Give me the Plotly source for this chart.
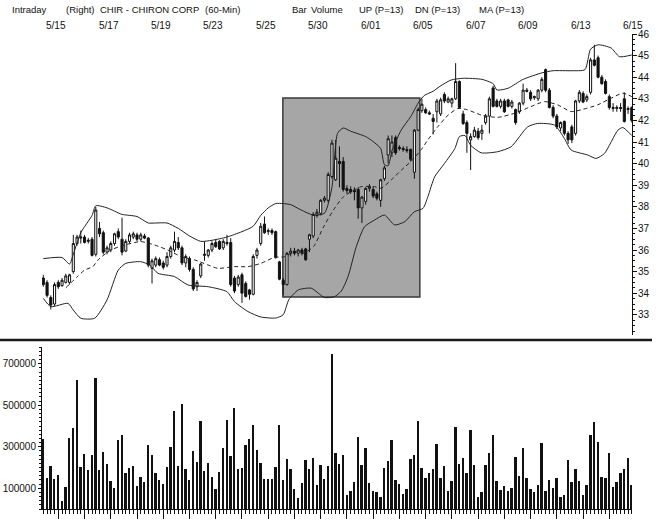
import plotly.graph_objects as go

# ---------------- data ----------------
bar_index = list(range(158))

open_ = [34.7,34.5,33.8,33.5,34.5,34.35,34.5,34.5,35.0,36.3,36.55,36.6,36.4,36.5,35.8,37.0,36.8,35.9,36.0,36.3,
         36.85,36.5,35.95,36.4,36.6,36.7,36.5,36.65,36.55,35.15,35.3,35.55,35.4,35.3,35.7,36.0,36.35,36.1,35.4,35.6,
         35.1,34.3,34.8,35.75,35.75,36.0,36.35,36.4,36.1,36.35,36.35,34.7,34.4,34.85,34.45,34.15,33.95,35.75,36.3,37.2,
         36.85,36.9,36.85,35.45,34.6,34.4,35.85,35.95,35.85,36.0,36.05,36.5,36.65,37.6,37.7,38.3,38.3,39.4,39.25,40.1,
         40.1,38.85,38.8,38.75,38.8,37.95,38.25,38.85,38.8,38.6,38.3,39.3,40.4,40.5,41.2,40.75,40.7,40.65,40.65,39.6,
         41.55,42.45,42.5,42.35,42.1,42.4,42.3,43.2,42.85,42.8,43.0,43.8,42.3,41.9,41.1,41.25,41.5,41.4,41.9,42.2,
         43.5,42.9,42.65,42.9,42.95,42.65,42.5,42.4,42.8,43.4,43.3,43.05,43.0,43.4,44.35,43.4,42.6,42.2,41.65,41.95,
         41.4,41.7,41.4,42.9,43.25,42.95,43.3,44.8,44.9,44.0,43.8,43.1,42.6,42.55,42.6,43.0,42.5,42.6]
high = [34.85,34.6,33.9,34.5,34.6,34.7,34.9,34.9,36.7,36.7,36.9,36.7,36.55,36.6,38.0,37.3,36.9,36.2,36.4,36.8,
        37.0,37.5,36.5,36.8,36.85,36.8,36.8,36.75,36.6,35.6,35.7,35.65,35.5,35.9,36.2,36.85,36.6,36.2,35.8,35.7,
        35.2,34.6,35.4,36.4,36.05,36.4,36.5,36.45,36.5,36.7,36.55,34.8,34.85,34.95,34.55,34.2,35.8,36.1,37.25,37.55,
        37.0,37.0,36.9,35.5,34.7,35.9,36.1,36.1,36.05,36.1,36.1,36.75,37.75,37.9,38.35,38.5,39.6,41.1,41.1,40.8,
        40.3,39.0,38.95,38.9,38.9,38.5,38.9,39.05,38.95,38.7,39.3,39.9,41.3,41.3,41.3,40.85,40.8,40.8,40.7,41.6,
        42.6,43.0,42.6,42.45,42.3,43.0,43.05,43.3,43.1,43.05,44.65,43.85,42.45,42.0,41.4,41.7,41.65,41.8,42.3,43.1,
        43.6,43.0,43.0,43.0,43.0,42.95,42.55,42.85,43.7,43.5,43.4,43.15,43.45,44.0,44.4,43.5,42.7,42.3,41.95,42.0,
        41.5,41.8,42.95,43.4,43.35,43.2,44.9,45.5,45.0,44.1,43.9,43.2,42.8,42.7,42.8,43.3,42.65,42.65]
low = [34.3,33.8,33.25,33.4,34.2,34.3,34.45,34.4,34.9,36.2,36.3,36.3,36.3,35.7,35.7,36.6,35.8,35.8,35.9,36.2,
       36.5,35.75,35.9,36.3,36.5,36.4,36.4,36.5,35.2,34.45,35.2,35.25,35.1,35.2,35.6,35.9,36.0,35.3,35.2,35.0,
       34.1,34.1,34.7,35.5,35.65,35.9,36.1,36.0,36.0,36.2,34.3,34.0,34.3,33.55,33.8,33.7,33.9,35.6,36.2,36.75,
       36.7,36.7,35.6,34.6,33.9,34.35,35.7,35.75,35.7,35.75,35.5,35.9,36.55,37.5,37.6,38.2,38.2,39.3,39.2,38.9,
       38.7,38.6,38.6,38.3,37.45,37.25,38.1,38.7,38.4,38.3,38.0,39.2,40.0,40.3,40.4,40.6,40.55,40.5,40.1,39.3,
       41.5,42.35,42.3,42.25,41.35,41.9,42.2,42.8,42.8,42.6,42.95,42.55,41.8,40.5,39.7,41.2,41.1,41.1,41.8,41.4,
       42.6,42.6,42.55,42.35,42.6,42.55,41.8,42.3,42.7,43.3,42.9,42.95,42.9,43.3,43.3,42.55,42.1,41.6,41.5,41.3,
       40.9,40.95,41.3,42.8,42.8,42.85,43.2,44.5,43.95,43.65,43.2,42.5,42.4,42.4,42.4,41.9,42.3,41.9]
close = [34.4,33.9,33.45,34.4,34.3,34.6,34.8,34.85,36.3,36.6,36.6,36.35,36.45,35.75,37.85,36.75,35.9,36.1,36.3,36.75,
         36.6,35.9,36.4,36.7,36.75,36.5,36.7,36.55,35.3,35.5,35.6,35.3,35.2,35.7,36.1,36.4,36.1,35.4,35.7,35.1,
         34.2,34.5,35.35,35.8,36.0,36.3,36.15,36.05,36.4,36.3,34.4,34.1,34.75,34.0,33.85,33.95,35.7,36.0,37.1,36.8,
         36.9,36.8,35.65,34.65,34.4,35.85,35.95,35.85,36.0,35.85,35.55,36.7,37.65,37.75,38.3,38.4,39.5,40.95,40.25,40.0,
         38.8,38.75,38.7,38.7,37.95,38.45,38.85,38.95,38.5,38.4,39.25,39.8,41.15,41.0,40.5,40.7,40.65,40.6,40.2,41.55,
         42.5,42.75,42.35,42.3,41.95,42.9,42.95,42.9,43.0,43.0,43.8,42.6,41.85,41.4,41.25,41.55,41.2,41.55,42.2,43.0,
         42.65,42.65,42.9,42.4,42.65,42.85,41.9,42.8,43.4,43.35,43.0,43.1,43.4,43.9,43.4,42.6,42.2,41.7,41.9,41.4,
         41.1,41.1,42.9,43.3,42.85,43.1,44.8,44.55,44.0,43.7,43.25,42.6,42.55,42.6,42.55,41.95,42.55,42.0]

volume = [336,151,209,143,165,39,108,342,389,620,201,263,188,259,631,188,275,215,137,103,
          333,357,172,199,205,111,153,130,307,260,172,140,119,201,300,472,209,504,194,140,
          278,226,422,183,222,156,96,177,292,429,255,487,194,197,308,337,403,284,222,143,
          143,145,203,406,140,241,193,95,53,124,236,191,244,117,214,143,205,745,268,217,
          262,67,88,132,349,214,294,127,88,80,59,197,230,334,138,120,74,96,241,262,
          422,197,151,172,191,313,151,209,88,133,395,217,244,172,381,212,56,83,212,268,
          358,135,92,112,88,101,252,157,294,149,95,80,114,316,88,140,101,151,59,66,
          236,132,194,135,67,117,358,421,323,154,151,271,108,129,172,191,246,114]
volume = [v * 1000 for v in volume]

upper_x = [0,5,7,8,10,13,14,17,21,25,28,30,33,36,39,42,45,49,53,56,58,60,62,64,66,68.8,72,75,77,78.5,
           80,82,86,88,90,91,92,93,95.5,98,100,101.6,104,106,108.8,112,117,120,121,124,128,133,136,141,144.5,146,148,151.5,153.7,157]
upper_y = [35.6,35.65,35.35,35.8,36.8,37.6,38.05,37.95,37.65,37.55,37.25,37.25,37.25,37.0,36.65,36.4,36.45,36.6,36.85,37.1,37.6,37.95,38.15,38.15,38.1,37.85,37.62,37.7,38.9,41.4,
           41.65,41.5,41.25,41.02,40.7,39.95,39.9,40.6,41.56,42.17,42.8,43.15,43.35,43.6,43.87,43.95,43.9,43.7,43.41,43.49,43.9,44.2,44.3,44.3,44.35,45.3,45.5,45.35,44.95,45.03]

lower_x = [0,2,6.6,8,10,13.7,17,20,22,26,28.4,30.6,35,38.6,44,49,51,54.6,58,62,64,65.5,68,71.5,75,77.7,79.5,81.3,83.5,85.7,
           88.4,91,93.7,96.4,99,101.3,102.6,104.4,107,109.8,111,112.5,114,116.8,121.2,124.8,129.2,131.9,136.4,139,140.8,145.2,147.5,149.7,153.3,154.6,157]
lower_y = [33.76,33.38,33.53,33.22,32.84,32.84,33.69,35.07,35.38,35.46,35.3,34.92,34.77,34.38,34.3,34.07,33.61,33.15,32.9,32.85,33.0,33.7,34.15,34.23,33.8,33.84,34.1,34.77,36.16,37.08,
           37.39,37.62,37.16,37.31,37.77,37.93,38.47,39.39,40.0,40.7,41.25,41.3,40.85,40.5,40.55,40.78,41.7,41.86,41.78,41.17,40.63,40.4,40.24,40.47,41.55,41.67,41.3]

ma_x = [6,9,11,13.2,14.6,18,21.7,26,29.7,33.2,36.8,40.4,43.9,46.6,51,54.6,58,61.7,64.4,67,69.4,72.1,74.8,77.4,80.1,84.8,88.4,90.1,92.8,95.5,
        98.1,100.8,102.6,105.3,108,110.6,113,116.8,121.2,125.7,130.1,133.7,137.2,140.8,143.5,147.9,151.5,154.6,157]
ma_y = [34.25,34.75,35.07,35.23,35.54,36.0,36.23,36.39,36.23,36.0,35.69,35.54,35.31,35.15,35.23,35.23,35.38,35.66,35.69,35.92,35.85,36.16,37.08,37.85,38.47,38.93,38.93,38.86,39.24,39.7,
        40.1,40.64,41.1,41.72,42.25,42.55,42.5,42.25,42.14,42.33,42.64,42.87,42.72,42.41,42.49,42.72,43.03,43.26,43.1]

date_labels = ["5/15","5/17","5/19","5/23","5/25","5/30","6/01","6/05","6/07","6/09","6/13","6/15"]
date_label_idx = [3.4,17.4,31.4,45.4,59.4,73.4,87.4,101.4,115.4,129.4,143.4,157.4]
day_start_ticks = [4,11,18,25,32,39,46,53,60,67,74,81,88,95,102,109,116,123,130,137,144,151]

price_ticks = [33,34,35,36,37,38,39,40,41,42,43,44,45,46]
volume_ticks = [100000,300000,500000,700000]

# highlighted zone
rect_x0, rect_x1 = 63.9, 100.45
rect_y0, rect_y1 = 33.82, 43.04

# ---------------- layout constants ----------------
W, H = 659, 525
ML, MR, MT, MB = 42, 27, 34, 16
PW = W - ML - MR
PH = H - MT - MB
XR = [-0.35, 157.05]
YR = [32.065, 46.0]
FONT = "Liberation Sans, Arial, sans-serif"
HDR_SIZE = 9.5
TICK_SIZE = 10

def px_to_paper_x(px):
    return (px - ML) / PW

def px_to_paper_y(py):
    return (H - MB - py) / PH

def idx_to_paper(i):
    return (i - XR[0]) / (XR[1] - XR[0])

fig = go.Figure()

fig.add_trace(go.Candlestick(
    x=bar_index, open=open_, high=high, low=low, close=close,
    increasing=dict(line=dict(color="#111", width=1), fillcolor="white"),
    decreasing=dict(line=dict(color="#111", width=1), fillcolor="#111"),
    whiskerwidth=0, xaxis="x", yaxis="y", showlegend=False, hoverinfo="skip"))

for bx, by, dash in [(upper_x, upper_y, "solid"), (lower_x, lower_y, "solid"), (ma_x, ma_y, "4px,3px")]:
    fig.add_trace(go.Scatter(x=bx, y=by, mode="lines",
                             line=dict(color="#222", width=1, dash=dash, shape="spline", smoothing=0.6),
                             xaxis="x", yaxis="y", showlegend=False, hoverinfo="skip"))

fig.add_trace(go.Bar(x=bar_index, y=volume, width=0.5, marker=dict(color="#111", line=dict(width=0)),
                     xaxis="x", yaxis="y2", showlegend=False, hoverinfo="skip"))

fig.add_shape(type="rect", xref="x", yref="y", x0=rect_x0, x1=rect_x1, y0=rect_y0, y1=rect_y1,
              fillcolor="#a6a6a6", line=dict(color="#3a3a3a", width=1.5), layer="below")

# separator line between panels
fig.add_shape(type="line", xref="paper", yref="paper",
              x0=px_to_paper_x(0), x1=px_to_paper_x(652), y0=px_to_paper_y(340), y1=px_to_paper_y(340),
              line=dict(color="#1a1a1a", width=2.5))

annotations = []
header = [("Intraday", 10), ("(Right)", 64), ("CHIR - CHIRON CORP", 98), ("(60-Min)", 203),
          ("Bar", 290), ("Volume", 309), ("UP (P=13)", 357), ("DN (P=13)", 413), ("MA (P=13)", 477)]
for txt, px in header:
    annotations.append(dict(text=txt, xref="paper", yref="paper", x=px_to_paper_x(px), y=px_to_paper_y(10),
                            xanchor="left", yanchor="middle", showarrow=False,
                            font=dict(family=FONT, size=HDR_SIZE, color="#111")))
for lbl, i in zip(date_labels, date_label_idx):
    annotations.append(dict(text=lbl, xref="paper", yref="paper", x=idx_to_paper(i), y=px_to_paper_y(26),
                            xanchor="center", yanchor="middle", showarrow=False,
                            font=dict(family=FONT, size=TICK_SIZE, color="#111")))
for t in price_ticks:
    annotations.append(dict(text=str(t), xref="paper", yref="y", x=px_to_paper_x(636), y=t,
                            xanchor="left", yanchor="middle", showarrow=False,
                            font=dict(family=FONT, size=TICK_SIZE, color="#111")))

fig.update_layout(
    width=W, height=H, margin=dict(l=ML, r=MR, t=MT, b=MB, autoexpand=False),
    paper_bgcolor="white", plot_bgcolor="white",
    font=dict(family=FONT, size=TICK_SIZE, color="#111"),
    boxgap=0.2, bargap=0,
    annotations=annotations,
    xaxis=dict(domain=[0, 1], range=XR, anchor="y2", showgrid=False, zeroline=False, automargin=False,
               showline=True, linecolor="#111", linewidth=1,
               tickmode="array", tickvals=day_start_ticks, ticks="outside", ticklen=9, tickcolor="#111",
               showticklabels=False,
               minor=dict(tickmode="linear", tick0=0, dtick=1, ticks="outside", ticklen=4, tickcolor="#111"),
               rangeslider=dict(visible=False)),
    yaxis=dict(domain=[px_to_paper_y(335), 1.0], range=YR, side="right", anchor="x", automargin=False,
               showgrid=False, zeroline=False, showline=True, linecolor="#111", linewidth=1,
               tickmode="array", tickvals=price_ticks, showticklabels=False,
               ticks="outside", ticklen=4, tickcolor="#111",
               minor=dict(tickmode="linear", tick0=0, dtick=0.25, ticks="outside", ticklen=2, tickcolor="#111")),
    yaxis2=dict(domain=[0, px_to_paper_y(347)], range=[0, 781000], side="left", anchor="x", automargin=False,
                showgrid=False, zeroline=False, showline=True, linecolor="#111", linewidth=1,
                tickmode="array", tickvals=volume_ticks, ticktext=[str(t) for t in volume_ticks],
                ticks="outside", ticklen=3, tickcolor="#111",
                minor=dict(tickmode="linear", tick0=0, dtick=20000, ticks="outside", ticklen=2, tickcolor="#111"),
                tickfont=dict(family=FONT, size=TICK_SIZE, color="#111")),
)

fig.write_html("out.html", config={"displayModeBar": False},
               post_script="document.body.style.margin='0';document.body.style.overflow='hidden';")
